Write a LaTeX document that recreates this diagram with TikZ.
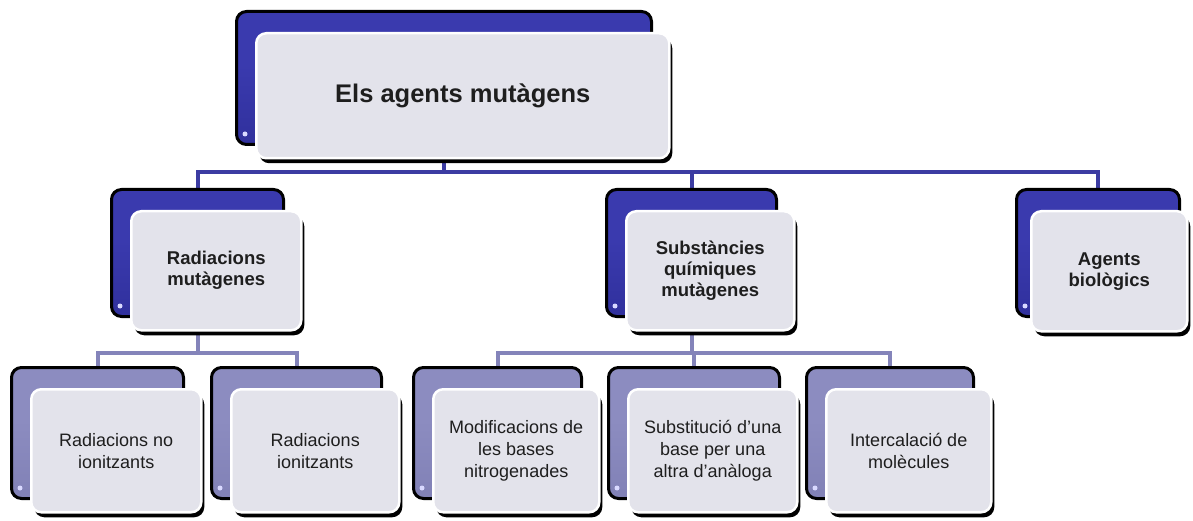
\documentclass[tikz,border=0pt]{standalone}
\usepackage{fontspec}
\setmainfont{Liberation Sans}
\usetikzlibrary{shadows}

\definecolor{bluedk}{HTML}{28288E}
\definecolor{bluemd}{HTML}{3A3AAE}
\definecolor{bluelt}{HTML}{7272E6}
\definecolor{lavdk}{HTML}{7878AE}
\definecolor{lavmd}{HTML}{8C8CC0}
\definecolor{lavlt}{HTML}{B8B8E4}
\definecolor{paper}{HTML}{E3E3EB}
\definecolor{ink}{HTML}{1E1E1E}
\definecolor{lineblue}{HTML}{3C3CA2}
\definecolor{linelav}{HTML}{8484BA}

\pgfdeclareverticalshading{deepblue}{100bp}{color(0bp)=(bluedk); color(55bp)=(bluemd); color(86bp)=(bluemd); color(93bp)=(bluelt); color(100bp)=(bluemd)}
\pgfdeclareverticalshading{lavender}{100bp}{color(0bp)=(lavdk); color(55bp)=(lavmd); color(86bp)=(lavmd); color(93bp)=(lavlt); color(100bp)=(lavmd)}

\pgfdeclarelayer{canvas}
\pgfdeclarelayer{bg}
\pgfsetlayers{canvas,bg,main}

\tikzset{
  backbox/.style={rectangle, rounded corners=10, draw=black, line width=3,
    inner sep=0, anchor=north west},
  backblue/.style={backbox, shading=deepblue},
  backlav/.style={backbox, shading=lavender},
  frontbox/.style={rectangle, rounded corners=10, fill=paper, draw=white,
    line width=2.5, inner sep=0, anchor=north west, align=center, text=ink,
    drop shadow={shadow xshift=3pt, shadow yshift=-5pt, fill=black, opacity=1}},
  titlefont/.style={font=\fontsize{25.5}{30}\selectfont\bfseries},
  midfont/.style={font=\fontsize{18.5}{21}\selectfont\bfseries},
  lowfont/.style={font=\fontsize{18}{22}\selectfont},
  glint/.style={fill=white!85!blue, draw=none},
  bus1/.style={draw=lineblue, line width=4},
  bus3/.style={draw=linelav, line width=4},
}

% back panel, glint, then front panel carrying the label
\newcommand\boxpair[9]{%
  \node[#6, minimum width=#4, minimum height=#5] (#1-b) at (#2,#3) {};
  \fill[glint] ([xshift=10pt,yshift=12pt]#1-b.south west) circle (2.5);
  \node[frontbox, #7, minimum width=#4-2, minimum height=#5-8] (#1) at (#2+20,#3+22) {#9};
}

\begin{document}
\begin{tikzpicture}[x=1pt, y=-1pt]
  \begin{pgfonlayer}{canvas}
    \fill[white] (0,0) rectangle (1193,521);
  \end{pgfonlayer}
  \useasboundingbox (0,0) rectangle (1193,521);

  % top level
  \boxpair{top}{235}{10}{415}{133}{backblue}{titlefont}{}{Els agents mutàgens}

  % second level
  \boxpair{rad}{110}{188}{172}{127}{backblue}{midfont}{}{Radiacions\\mutàgenes}
  \boxpair{sub}{605}{188}{170}{127}{backblue}{midfont}{}{Substàncies\\químiques\\mutàgenes}
  \node[backblue, minimum width=163, minimum height=127] (bio-b) at (1015,188) {};
  \fill[glint] ([xshift=10pt,yshift=12pt]bio-b.south west) circle (2.5);
  \node[frontbox, midfont, minimum width=156, minimum height=120] (bio) at (1030,210) {Agents\\biològics};

  % third level
  \boxpair{nion}{10}{366}{172}{131}{backlav}{lowfont}{}{Radiacions no\\ionitzants}
  \boxpair{ion}{210}{366}{170}{131}{backlav}{lowfont}{}{Radiacions\\ionitzants}
  \boxpair{mod}{412}{366}{168}{131}{backlav}{lowfont}{}{Modificacions de\\les bases\\nitrogenades}
  \boxpair{subs}{607}{366}{171}{131}{backlav}{lowfont}{}{Substitució d’una\\base per una\\altra d’anàloga}
  \boxpair{inter}{805}{366}{167}{131}{backlav}{lowfont}{}{Intercalació de\\molècules}

  % connectors, behind the panels
  \begin{pgfonlayer}{bg}
    \coordinate (busA) at (0,172);
    \coordinate (busB) at (0,353);
    \draw[bus1] (top-b.south) -- (top-b.south |- busA);
    \draw[bus1] (rad-b.north) -- (rad-b.north |- busA) -- (bio-b.north |- busA) -- (bio-b.north);
    \draw[bus1] (sub-b.north) -- (sub-b.north |- busA);

    \draw[bus3] (rad-b.south) -- (rad-b.south |- busB);
    \draw[bus3] (nion-b.north) -- (nion-b.north |- busB) -- (ion-b.north |- busB) -- (ion-b.north);

    \draw[bus3] (sub-b.south) -- (sub-b.south |- busB);
    \draw[bus3] (mod-b.north) -- (mod-b.north |- busB) -- (inter-b.north |- busB) -- (inter-b.north);
    \draw[bus3] (subs-b.north) -- (subs-b.north |- busB);
  \end{pgfonlayer}
\end{tikzpicture}
\end{document}
